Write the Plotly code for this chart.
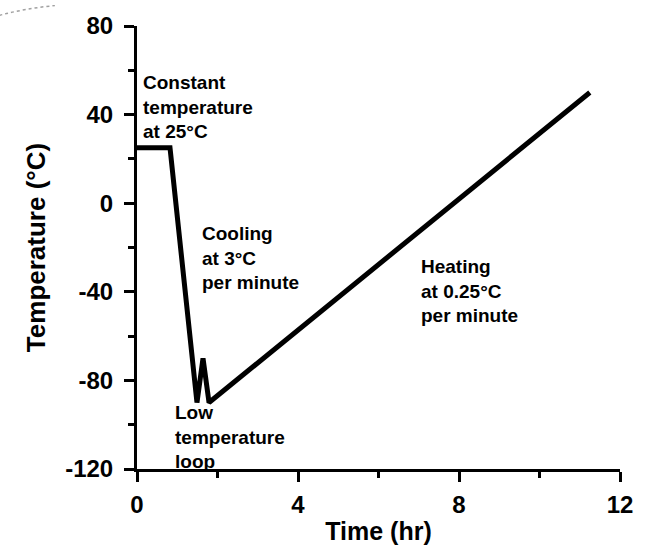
import plotly.graph_objects as go

# Temperature program
time_hr = [0.0, 0.82, 1.49, 1.64, 1.79, 11.25]
temp_c = [25, 25, -90, -70, -90, 50]

x_ticks = [0, 4, 8, 12]
x_labels = ["0", "4", "8", "12"]
y_ticks = [80, 40, 0, -40, -80, -120]
y_labels = ["80", "40", "0", "-40", "-80", "-120"]

labels = [
    ("Constant<br>temperature<br>at 25°C", 0.1, 60),
    ("Cooling<br>at 3°C<br>per minute", 1.57, -8),
    ("Heating<br>at 0.25°C<br>per minute", 7.0, -23),
    ("Low<br>temperature<br>loop", 0.9, -89),
]

FONT = "Liberation Sans, Arial, sans-serif"

fig = go.Figure()
fig.add_trace(go.Scatter(x=time_hr, y=temp_c, mode="lines",
                         line=dict(color="black", width=5),
                         hoverinfo="skip", showlegend=False, cliponaxis=False))

for txt, xx, yy in labels:
    fig.add_annotation(x=xx, y=yy, text="<b>" + txt + "</b>", showarrow=False,
                       xanchor="left", yanchor="top", align="left",
                       font=dict(family=FONT, size=19, color="black"))

# faint dotted arc artifact at top-left
fig.add_shape(type="path", xref="paper", yref="paper",
              path="M -0.285 1.024 Q -0.23 1.040 -0.17 1.046",
              line=dict(color="#a0a0a0", width=1.5, dash="dot"))

axis_common = dict(showline=True, linecolor="black", linewidth=3, ticks="outside",
                   tickwidth=3, ticklen=10, tickcolor="black", showgrid=False, zeroline=False,
                   tickfont=dict(family=FONT, size=24, color="black", weight="bold"))

fig.update_xaxes(range=[0, 12], tickvals=x_ticks, ticktext=x_labels,
                 title_text="Time (hr)", title_standoff=6, ticklabelstandoff=2,
                 title_font=dict(family=FONT, size=25, color="black", weight="bold"),
                 minor=dict(dtick=2, tick0=0, ticks="outside", ticklen=6, tickwidth=3, tickcolor="black"),
                 **axis_common)
fig.update_yaxes(range=[-120, 80], tickvals=y_ticks, ticktext=y_labels,
                 title_text="Temperature (°C)", title_standoff=13, ticklabelstandoff=6,
                 title_font=dict(family=FONT, size=26, color="black", weight="bold"),
                 minor=dict(dtick=20, tick0=0, ticks="outside", ticklen=6, tickwidth=3, tickcolor="black"),
                 **axis_common)

fig.update_layout(width=649, height=553, margin=dict(l=137, r=29, t=20, b=81),
                  plot_bgcolor="white", paper_bgcolor="white")

fig.write_html("out.html")
